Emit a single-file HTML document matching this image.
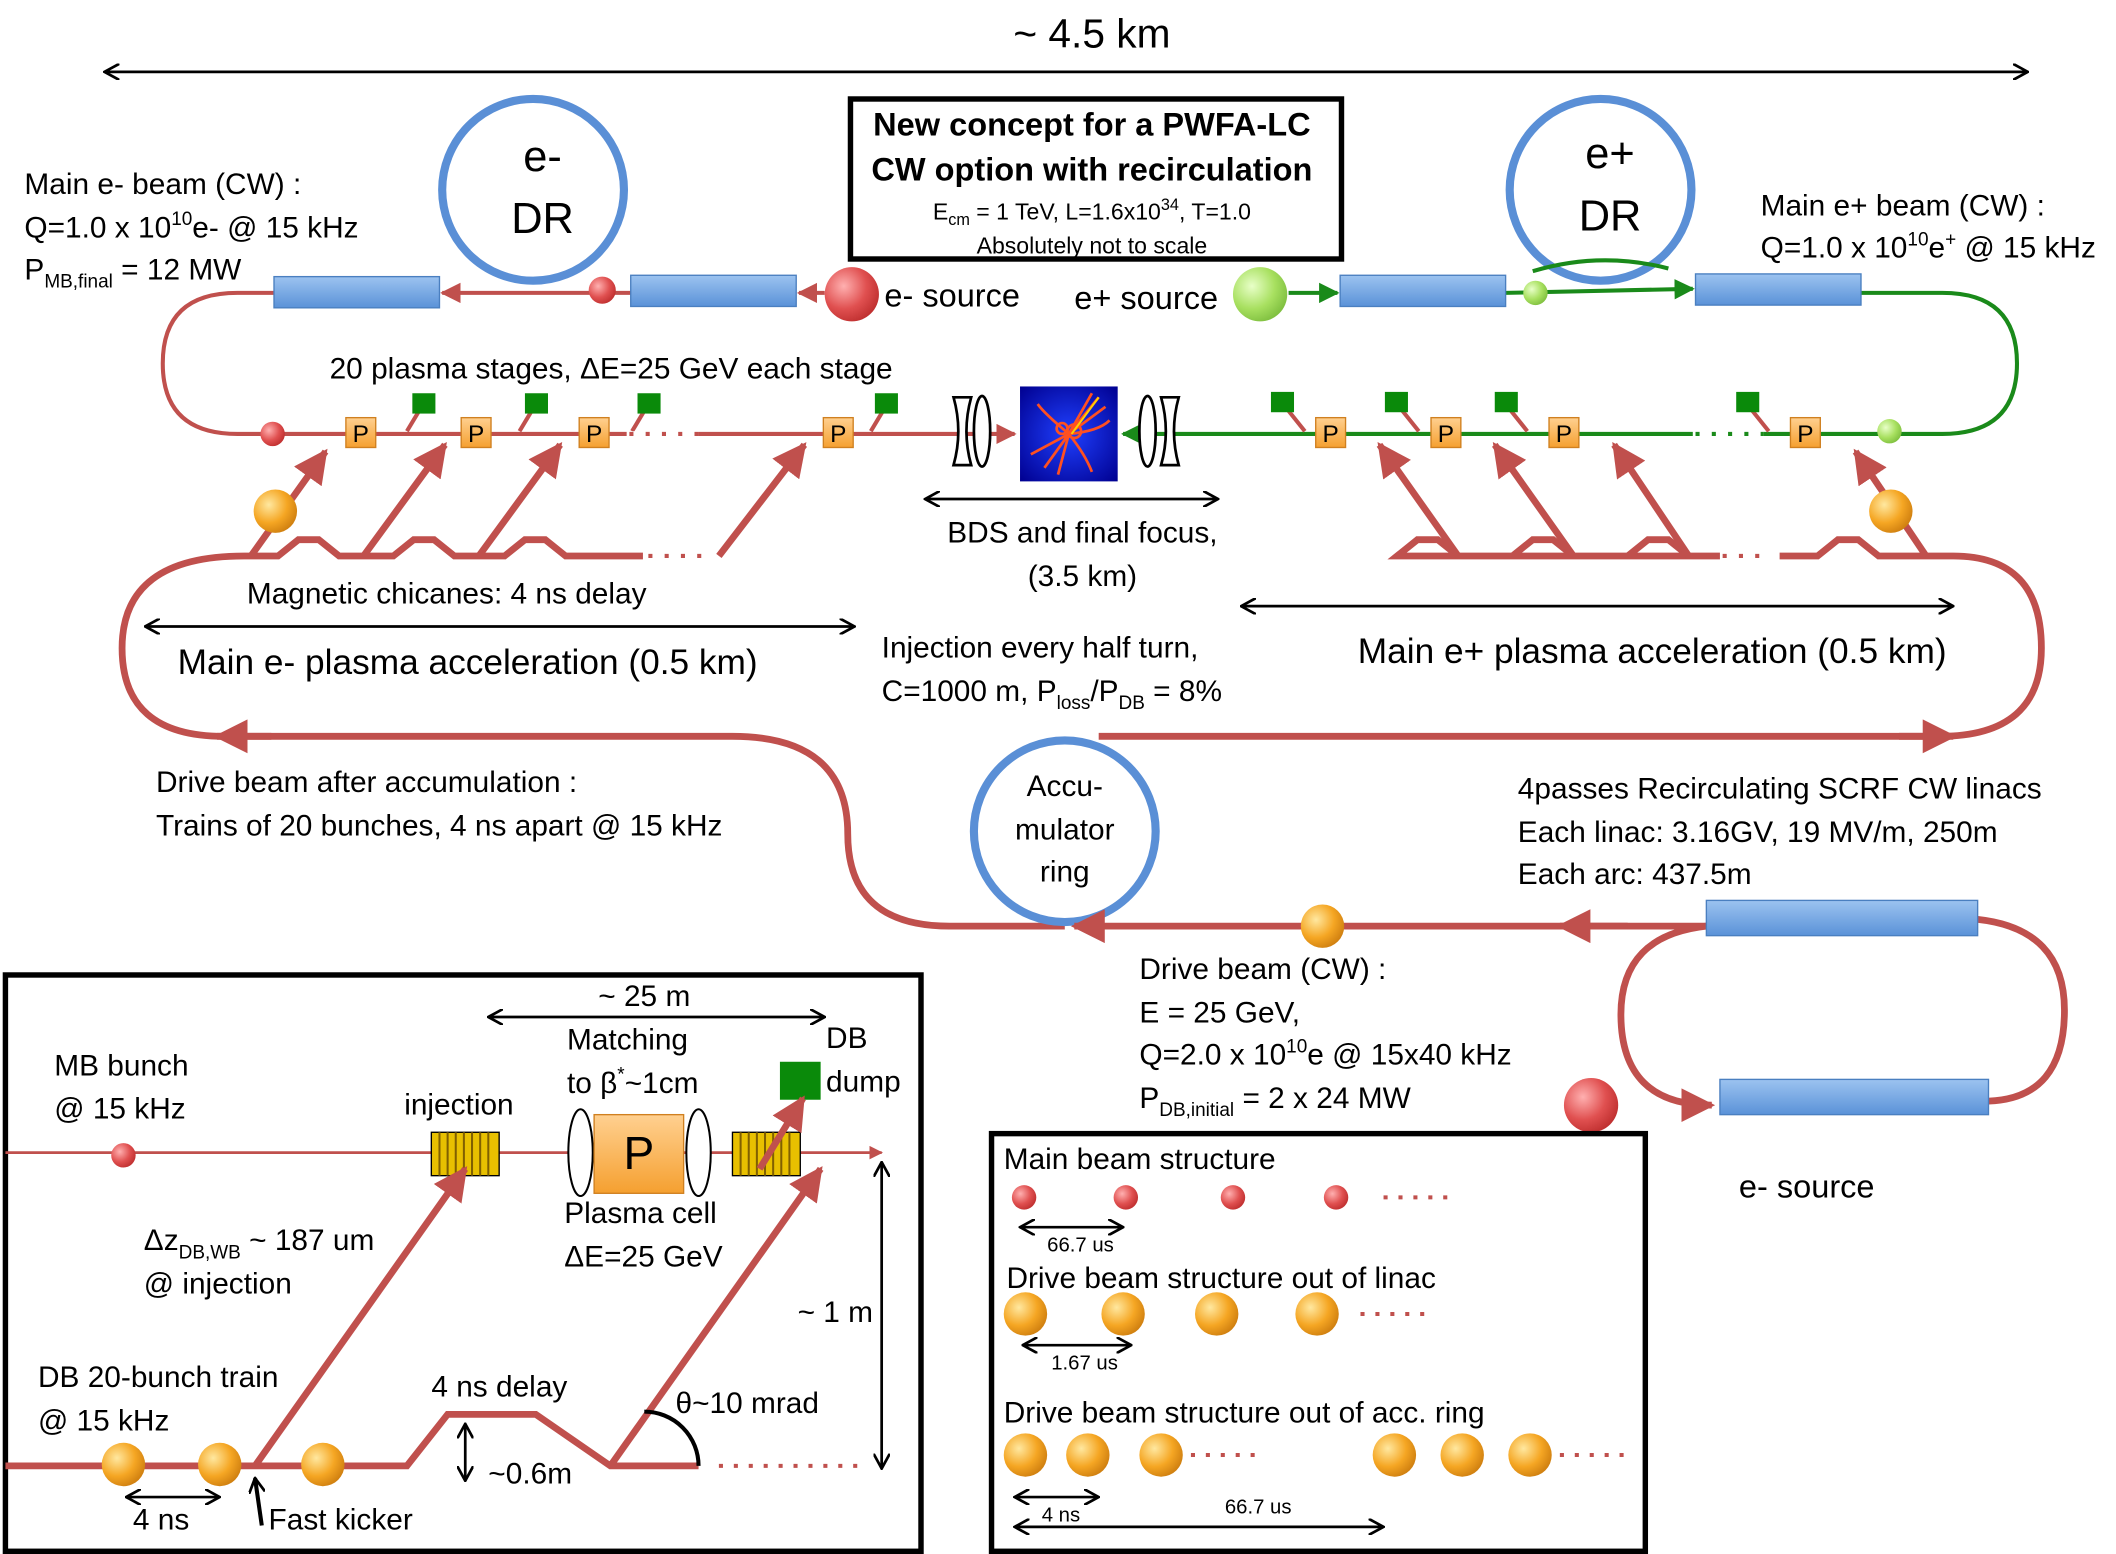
<!DOCTYPE html>
<html><head><meta charset="utf-8"><style>
html,body{margin:0;padding:0;background:#fff;}
svg{display:block;}
text{font-family:"Liberation Sans",sans-serif;fill:#000;}
</style></head><body>
<svg width="2116" height="1554" viewBox="0 0 1560 1146" preserveAspectRatio="none" xmlns="http://www.w3.org/2000/svg">
<defs>
<marker id="ar" viewBox="0 0 10 10" refX="9" refY="5" markerWidth="5" markerHeight="5" orient="auto-start-reverse"><path d="M0,0L10,5L0,10z" fill="#c0504d"/></marker>
<marker id="ag" viewBox="0 0 10 10" refX="9" refY="5" markerWidth="5" markerHeight="5" orient="auto-start-reverse"><path d="M0,0L10,5L0,10z" fill="#1a8a1a"/></marker>
<marker id="ak" viewBox="0 0 12 12" refX="11" refY="6" markerWidth="12" markerHeight="12" markerUnits="userSpaceOnUse" orient="auto-start-reverse"><path d="M0,0L11,6L0,12" fill="none" stroke="#000" stroke-width="2"/></marker>
<radialGradient id="gr" cx="0.35" cy="0.35" r="0.7"><stop offset="0" stop-color="#ffb0b0"/><stop offset="0.6" stop-color="#e05050"/><stop offset="1" stop-color="#c03030"/></radialGradient>
<radialGradient id="go" cx="0.35" cy="0.35" r="0.7"><stop offset="0" stop-color="#ffe8a0"/><stop offset="0.6" stop-color="#f5a623"/><stop offset="1" stop-color="#d08010"/></radialGradient>
<radialGradient id="gg" cx="0.35" cy="0.35" r="0.7"><stop offset="0" stop-color="#e8ffc8"/><stop offset="0.6" stop-color="#a8e060"/><stop offset="1" stop-color="#80c040"/></radialGradient>
<linearGradient id="gb" x1="0" y1="0" x2="0" y2="1"><stop offset="0" stop-color="#9cc3f0"/><stop offset="1" stop-color="#5a92d8"/></linearGradient>
<linearGradient id="gp" x1="0" y1="0" x2="0" y2="1"><stop offset="0" stop-color="#ffd090"/><stop offset="1" stop-color="#f5a030"/></linearGradient>
<radialGradient id="gbl" cx="0.5" cy="0.5" r="0.7"><stop offset="0" stop-color="#2040ff"/><stop offset="1" stop-color="#000090"/></radialGradient>
</defs>

<!-- top scale -->
<text x="805" y="35" font-size="30" text-anchor="middle">~ 4.5 km</text>
<line x1="77" y1="53" x2="1495" y2="53" stroke="#000" stroke-width="2" marker-start="url(#ak)" marker-end="url(#ak)"/>

<!-- DR rings -->
<circle cx="393" cy="140" r="67" fill="#fff" stroke="#5a8fd6" stroke-width="6"/>
<text x="400" y="126" font-size="32" text-anchor="middle">e-</text>
<text x="400" y="172" font-size="32" text-anchor="middle">DR</text>
<circle cx="1180" cy="140" r="67" fill="#fff" stroke="#5a8fd6" stroke-width="6"/>
<text x="1187" y="124" font-size="32" text-anchor="middle">e+</text>
<text x="1187" y="170" font-size="32" text-anchor="middle">DR</text>

<!-- title box -->
<rect x="627" y="73" width="362" height="118" fill="#fff" stroke="#000" stroke-width="4"/>
<text x="805" y="100" font-size="24" font-weight="bold" text-anchor="middle">New concept for a PWFA-LC</text>
<text x="805" y="133" font-size="24" font-weight="bold" text-anchor="middle">CW option with recirculation</text>
<text x="805" y="162" font-size="17" text-anchor="middle">E<tspan font-size="12" dy="4">cm</tspan><tspan dy="-4"> = 1 TeV, L=1.6x10</tspan><tspan font-size="12" dy="-7">34</tspan><tspan dy="7">, T=1.0</tspan></text>
<text x="805" y="187" font-size="17" text-anchor="middle">Absolutely not to scale</text>

<!-- left text -->
<text x="18" y="143" font-size="22">Main e- beam (CW) :</text>
<text x="18" y="175" font-size="22">Q=1.0 x 10<tspan font-size="14" dy="-9">10</tspan><tspan dy="9">e- @ 15 kHz</tspan></text>
<text x="18" y="206" font-size="22">P<tspan font-size="14" dy="6">MB,final</tspan><tspan dy="-6"> = 12 MW</tspan></text>
<text x="1298" y="159" font-size="22">Main e+ beam (CW) :</text>
<text x="1298" y="190" font-size="22">Q=1.0 x 10<tspan font-size="14" dy="-9">10</tspan><tspan dy="9">e</tspan><tspan font-size="14" dy="-9">+</tspan><tspan dy="9"> @ 15 kHz</tspan></text>

<!-- upper e- line -->
<path d="M202,216 H175 Q120,216 120,268 Q120,320 175,320 H748" fill="none" stroke="#c0504d" stroke-width="3" marker-end="url(#ar)"/>
<line x1="465" y1="216" x2="326" y2="216" stroke="#c0504d" stroke-width="3" marker-end="url(#ar)"/>
<line x1="608" y1="216" x2="589" y2="216" stroke="#c0504d" stroke-width="3" marker-end="url(#ar)"/>
<rect x="202" y="204" width="122" height="23" fill="url(#gb)" stroke="#4a7fc0"/>
<rect x="465" y="203" width="122" height="23" fill="url(#gb)" stroke="#4a7fc0"/>
<circle cx="444" cy="214" r="10" fill="url(#gr)"/>
<circle cx="628" cy="217" r="20" fill="url(#gr)"/>
<text x="652" y="226" font-size="24">e- source</text>
<text x="792" y="228" font-size="24">e+ source</text>

<!-- green e+ -->
<path d="M1130,200 Q1180,185 1230,198" fill="none" stroke="#1a8a1a" stroke-width="3"/>
<line x1="950" y1="216" x2="986" y2="216" stroke="#1a8a1a" stroke-width="3" marker-end="url(#ag)"/>
<line x1="1110" y1="216" x2="1248" y2="213" stroke="#1a8a1a" stroke-width="3" marker-end="url(#ag)"/>
<path d="M1372,216 H1432 Q1487,216 1487,268 Q1487,320 1432,320 H828" fill="none" stroke="#1a8a1a" stroke-width="3" marker-end="url(#ag)"/>
<rect x="988" y="203" width="122" height="23" fill="url(#gb)" stroke="#4a7fc0"/>
<rect x="1250" y="202" width="122" height="23" fill="url(#gb)" stroke="#4a7fc0"/>
<circle cx="929" cy="217" r="20" fill="url(#gg)"/>
<circle cx="1132" cy="216" r="9" fill="url(#gg)"/>
<circle cx="1393" cy="318" r="9" fill="url(#gg)"/>
<circle cx="201" cy="320" r="9" fill="url(#gr)"/>

<text x="243" y="279" font-size="22">20 plasma stages, ΔE=25 GeV each stage</text>

<!-- green kickers & P -->
<g stroke="#c0504d" stroke-width="3">
<line x1="312" y1="298" x2="300" y2="318"/><line x1="395" y1="298" x2="383" y2="318"/><line x1="478" y1="298" x2="466" y2="318"/><line x1="654" y1="298" x2="642" y2="318"/>
<line x1="946" y1="298" x2="962" y2="318"/><line x1="1030" y1="298" x2="1046" y2="318"/><line x1="1110" y1="298" x2="1126" y2="318"/><line x1="1288" y1="298" x2="1304" y2="318"/>
</g>
<g fill="#0a8a0a">
<rect x="304" y="290" width="17" height="15"/><rect x="387" y="290" width="17" height="15"/><rect x="470" y="290" width="17" height="15"/><rect x="645" y="290" width="17" height="15"/>
<rect x="937" y="289" width="17" height="15"/><rect x="1021" y="289" width="17" height="15"/><rect x="1102" y="289" width="17" height="15"/><rect x="1280" y="289" width="17" height="15"/>
</g>
<g font-size="18" text-anchor="middle">
<rect x="255" y="308" width="22" height="22" fill="url(#gp)" stroke="#d08020"/><text x="266" y="326">P</text>
<rect x="340" y="308" width="22" height="22" fill="url(#gp)" stroke="#d08020"/><text x="351" y="326">P</text>
<rect x="427" y="308" width="22" height="22" fill="url(#gp)" stroke="#d08020"/><text x="438" y="326">P</text>
<rect x="607" y="308" width="22" height="22" fill="url(#gp)" stroke="#d08020"/><text x="618" y="326">P</text>
<rect x="970" y="308" width="22" height="22" fill="url(#gp)" stroke="#d08020"/><text x="981" y="326">P</text>
<rect x="1055" y="308" width="22" height="22" fill="url(#gp)" stroke="#d08020"/><text x="1066" y="326">P</text>
<rect x="1142" y="308" width="22" height="22" fill="url(#gp)" stroke="#d08020"/><text x="1153" y="326">P</text>
<rect x="1320" y="308" width="22" height="22" fill="url(#gp)" stroke="#d08020"/><text x="1331" y="326">P</text>
</g>
<line x1="462" y1="320" x2="515" y2="320" stroke="#fff" stroke-width="4"/>
<line x1="464" y1="320" x2="515" y2="320" stroke="#c0504d" stroke-width="3" stroke-dasharray="3,9"/>
<line x1="1248" y1="320" x2="1300" y2="320" stroke="#fff" stroke-width="4"/>
<line x1="1250" y1="320" x2="1300" y2="320" stroke="#1a8a1a" stroke-width="3" stroke-dasharray="3,9"/>

<!-- final focus -->
<g fill="#fff" stroke="#000" stroke-width="2">
<path d="M703,293 H716 Q709,318 716,343 H703 Q710,318 703,293z"/>
<ellipse cx="724" cy="318" rx="6" ry="26"/>
<ellipse cx="846" cy="318" rx="6" ry="26"/>
<path d="M856,293 H869 Q862,318 869,343 H856 Q863,318 856,293z"/>
</g>
<rect x="752" y="285" width="72" height="70" fill="url(#gbl)"/>
<g stroke="#ff5020" stroke-width="2" fill="none">
<path d="M788,320 L810,293"/><path d="M788,320 L815,300"/><path d="M788,320 L805,290"/><path d="M788,320 L770,345"/><path d="M788,320 L760,335"/><path d="M788,320 L780,350"/><path d="M788,320 Q770,305 765,298"/><path d="M788,320 Q800,335 805,348"/><path d="M788,320 Q810,318 818,310"/><circle cx="792" cy="318" r="5"/><circle cx="783" cy="316" r="4"/>
</g>
<line x1="790" y1="320" x2="810" y2="293" stroke="#ffd000" stroke-width="1.5"/>
<line x1="682" y1="368" x2="898" y2="368" stroke="#000" stroke-width="2" marker-start="url(#ak)" marker-end="url(#ak)"/>
<text x="798" y="400" font-size="22" text-anchor="middle">BDS and final focus,</text>
<text x="798" y="432" font-size="22" text-anchor="middle">(3.5 km)</text>

<!-- drive beam loops -->
<g fill="none" stroke="#c0504d" stroke-width="5">
<path d="M785,683 H700 Q625,683 625,615 Q625,543 540,543 H165"/>
<path d="M165,543 Q90,543 90,478 Q90,410 180,410 H205 L220,398 H235 L250,410 H290 L305,398 H320 L335,410 H372 L387,398 H402 L417,410 H474"/>
<path d="M810,543 H1430"/>
<path d="M1430,543 Q1505,543 1505,478 Q1505,410 1440,410 H1385 L1370,398 H1355 L1340,410 H1312"/>
<path d="M1268,410 H1245 L1230,398 H1215 L1200,410 H1160 L1145,398 H1130 L1115,410 H1075 L1060,398 H1045 L1030,410 H1255"/>
</g>
<line x1="478" y1="410" x2="525" y2="410" stroke="#c0504d" stroke-width="3" stroke-dasharray="3,9"/>
<line x1="1258" y1="410" x2="1305" y2="410" stroke="#c0504d" stroke-width="3" stroke-dasharray="3,9"/>
<line x1="200" y1="543" x2="160" y2="543" stroke="#c0504d" stroke-width="5" marker-end="url(#ar)"/>
<line x1="1400" y1="543" x2="1440" y2="543" stroke="#c0504d" stroke-width="5" marker-end="url(#ar)"/>
<g stroke="#c0504d" stroke-width="5">
<line x1="185" y1="410" x2="240" y2="333" marker-end="url(#ar)"/>
<line x1="268" y1="410" x2="328" y2="328" marker-end="url(#ar)"/>
<line x1="353" y1="410" x2="413" y2="328" marker-end="url(#ar)"/>
<line x1="530" y1="410" x2="593" y2="328" marker-end="url(#ar)"/>
<line x1="1075" y1="410" x2="1017" y2="328" marker-end="url(#ar)"/>
<line x1="1160" y1="410" x2="1102" y2="328" marker-end="url(#ar)"/>
<line x1="1245" y1="410" x2="1190" y2="328" marker-end="url(#ar)"/>
<line x1="1420" y1="410" x2="1368" y2="333" marker-end="url(#ar)"/>
</g>
<circle cx="203" cy="377" r="16" fill="url(#go)"/>
<circle cx="1394" cy="377" r="16" fill="url(#go)"/>

<text x="182" y="445" font-size="22">Magnetic chicanes: 4 ns delay</text>
<line x1="107" y1="462" x2="630" y2="462" stroke="#000" stroke-width="2" marker-start="url(#ak)" marker-end="url(#ak)"/>
<text x="131" y="497" font-size="26">Main e- plasma acceleration (0.5 km)</text>
<text x="650" y="485" font-size="22">Injection every half turn,</text>
<text x="650" y="517" font-size="22">C=1000 m, P<tspan font-size="14" dy="6">loss</tspan><tspan dy="-6">/P</tspan><tspan font-size="14" dy="6">DB</tspan><tspan dy="-6"> = 8%</tspan></text>
<line x1="915" y1="447" x2="1440" y2="447" stroke="#000" stroke-width="2" marker-start="url(#ak)" marker-end="url(#ak)"/>
<text x="1001" y="489" font-size="26">Main e+ plasma acceleration (0.5 km)</text>

<text x="115" y="584" font-size="22">Drive beam after accumulation :</text>
<text x="115" y="616" font-size="22">Trains of 20 bunches, 4 ns apart @ 15 kHz</text>

<circle cx="785" cy="613" r="67" fill="#fff" stroke="#5a8fd6" stroke-width="6"/>
<text x="785" y="587" font-size="22" text-anchor="middle">Accu-</text>
<text x="785" y="619" font-size="22" text-anchor="middle">mulator</text>
<text x="785" y="650" font-size="22" text-anchor="middle">ring</text>

<text x="1119" y="589" font-size="22">4passes Recirculating SCRF CW linacs</text>
<text x="1119" y="621" font-size="22">Each linac: 3.16GV, 19 MV/m, 250m</text>
<text x="1119" y="652" font-size="22">Each arc: 437.5m</text>

<!-- linac loop -->
<g fill="none" stroke="#c0504d" stroke-width="5">
<line x1="1258" y1="683" x2="792" y2="683" marker-end="url(#ar)"/>
<line x1="1200" y1="683" x2="1150" y2="683" marker-end="url(#ar)"/>
<path d="M1458,678 Q1522,685 1522,745 Q1522,810 1466,812"/>
<path d="M1258,683 Q1195,690 1195,748 Q1195,815 1262,815" marker-end="url(#ar)"/>
</g>
<rect x="1258" y="664" width="200" height="26" fill="url(#gb)" stroke="#4a7fc0"/>
<rect x="1268" y="796" width="198" height="26" fill="url(#gb)" stroke="#4a7fc0"/>
<circle cx="1173" cy="815" r="20" fill="url(#gr)"/>
<circle cx="975" cy="683" r="16" fill="url(#go)"/>
<text x="1282" y="883" font-size="24">e- source</text>

<text x="840" y="722" font-size="22">Drive beam (CW) :</text>
<text x="840" y="754" font-size="22">E = 25 GeV,</text>
<text x="840" y="785" font-size="22">Q=2.0 x 10<tspan font-size="14" dy="-9">10</tspan><tspan dy="9">e @ 15x40 kHz</tspan></text>
<text x="840" y="817" font-size="22">P<tspan font-size="14" dy="6">DB,initial</tspan><tspan dy="-6"> = 2 x 24 MW</tspan></text>

<!-- bottom left box -->
<rect x="4" y="719" width="675" height="425" fill="none" stroke="#000" stroke-width="4"/>
<line x1="4" y1="850" x2="650" y2="850" stroke="#c0504d" stroke-width="2" marker-end="url(#ar)"/>
<circle cx="91" cy="852" r="9" fill="url(#gr)"/>
<text x="40" y="793" font-size="22">MB bunch</text>
<text x="40" y="825" font-size="22">@ 15 kHz</text>
<text x="298" y="822" font-size="22">injection</text>
<g>
<rect x="318" y="835" width="50" height="32" fill="#e8c000" stroke="#000"/>
<g stroke="#806000" stroke-width="1.5"><line x1="324" y1="835" x2="324" y2="867"/><line x1="330" y1="835" x2="330" y2="867"/><line x1="336" y1="835" x2="336" y2="867"/><line x1="342" y1="835" x2="342" y2="867"/><line x1="348" y1="835" x2="348" y2="867"/><line x1="354" y1="835" x2="354" y2="867"/><line x1="360" y1="835" x2="360" y2="867"/></g>
<rect x="540" y="835" width="50" height="32" fill="#e8c000" stroke="#000"/>
<g stroke="#806000" stroke-width="1.5"><line x1="546" y1="835" x2="546" y2="867"/><line x1="552" y1="835" x2="552" y2="867"/><line x1="558" y1="835" x2="558" y2="867"/><line x1="564" y1="835" x2="564" y2="867"/><line x1="570" y1="835" x2="570" y2="867"/><line x1="576" y1="835" x2="576" y2="867"/><line x1="582" y1="835" x2="582" y2="867"/></g>
</g>
<ellipse cx="428" cy="850" rx="9" ry="32" fill="#fff" stroke="#000" stroke-width="1.5"/>
<ellipse cx="515" cy="850" rx="9" ry="32" fill="#fff" stroke="#000" stroke-width="1.5"/>
<rect x="438" y="822" width="66" height="58" fill="url(#gp)" stroke="#d08020"/>
<text x="471" y="862" font-size="34" text-anchor="middle">P</text>
<line x1="360" y1="750" x2="608" y2="750" stroke="#000" stroke-width="2" marker-start="url(#ak)" marker-end="url(#ak)"/>
<text x="475" y="742" font-size="22" text-anchor="middle">~ 25 m</text>
<text x="418" y="774" font-size="22">Matching</text>
<text x="418" y="806" font-size="22">to β<tspan font-size="14" dy="-9">*</tspan><tspan dy="9">~1cm</tspan></text>
<text x="609" y="773" font-size="22">DB</text>
<text x="609" y="805" font-size="22">dump</text>
<rect x="575" y="783" width="30" height="28" fill="#0a8a0a"/>
<line x1="560" y1="862" x2="592" y2="810" stroke="#c0504d" stroke-width="5" marker-end="url(#ar)"/>
<text x="416" y="902" font-size="22">Plasma cell</text>
<text x="416" y="934" font-size="22">ΔE=25 GeV</text>
<text x="106" y="922" font-size="22">Δz<tspan font-size="14" dy="6">DB,WB</tspan><tspan dy="-6"> ~ 187 um</tspan></text>
<text x="106" y="954" font-size="22">@ injection</text>
<text x="28" y="1023" font-size="22">DB 20-bunch train</text>
<text x="28" y="1055" font-size="22">@ 15 kHz</text>
<path d="M4,1081 H300 L330,1043 H395 L450,1081 H515" fill="none" stroke="#c0504d" stroke-width="5"/>
<line x1="530" y1="1081" x2="640" y2="1081" stroke="#c0504d" stroke-width="3" stroke-dasharray="3,8"/>
<line x1="188" y1="1081" x2="343" y2="862" stroke="#c0504d" stroke-width="5" marker-end="url(#ar)"/>
<line x1="450" y1="1081" x2="605" y2="862" stroke="#c0504d" stroke-width="5" marker-end="url(#ar)"/>
<circle cx="91" cy="1080" r="16" fill="url(#go)"/>
<circle cx="162" cy="1080" r="16" fill="url(#go)"/>
<circle cx="238" cy="1080" r="16" fill="url(#go)"/>
<text x="318" y="1030" font-size="22">4 ns delay</text>
<line x1="343" y1="1050" x2="343" y2="1092" stroke="#000" stroke-width="2" marker-start="url(#ak)" marker-end="url(#ak)"/>
<text x="360" y="1094" font-size="22">~0.6m</text>
<text x="588" y="975" font-size="22">~ 1 m</text>
<line x1="650" y1="857" x2="650" y2="1083" stroke="#000" stroke-width="2" marker-start="url(#ak)" marker-end="url(#ak)"/>
<text x="498" y="1042" font-size="22">θ~10 mrad</text>
<path d="M475,1041 A40,40 0 0 1 515,1081" fill="none" stroke="#000" stroke-width="3"/>
<line x1="93" y1="1104" x2="162" y2="1104" stroke="#000" stroke-width="2" marker-start="url(#ak)" marker-end="url(#ak)"/>
<text x="98" y="1128" font-size="22">4 ns</text>
<line x1="193" y1="1125" x2="188" y2="1090" stroke="#000" stroke-width="3" marker-end="url(#ak)"/>
<text x="198" y="1128" font-size="22">Fast kicker</text>

<!-- bottom right box -->
<rect x="731" y="836" width="482" height="308" fill="none" stroke="#000" stroke-width="4"/>
<text x="740" y="862" font-size="22">Main beam structure</text>
<circle cx="755" cy="883" r="9" fill="url(#gr)"/><circle cx="830" cy="883" r="9" fill="url(#gr)"/><circle cx="909" cy="883" r="9" fill="url(#gr)"/><circle cx="985" cy="883" r="9" fill="url(#gr)"/>
<line x1="1020" y1="883" x2="1072" y2="883" stroke="#c0504d" stroke-width="3" stroke-dasharray="3,8"/>
<line x1="752" y1="905" x2="828" y2="905" stroke="#000" stroke-width="2" marker-start="url(#ak)" marker-end="url(#ak)"/>
<text x="772" y="923" font-size="15">66.7 us</text>
<text x="742" y="950" font-size="22">Drive beam structure out of linac</text>
<circle cx="756" cy="969" r="16" fill="url(#go)"/><circle cx="828" cy="969" r="16" fill="url(#go)"/><circle cx="897" cy="969" r="16" fill="url(#go)"/><circle cx="971" cy="969" r="16" fill="url(#go)"/>
<line x1="1003" y1="969" x2="1055" y2="969" stroke="#c0504d" stroke-width="3" stroke-dasharray="3,8"/>
<line x1="754" y1="992" x2="834" y2="992" stroke="#000" stroke-width="2" marker-start="url(#ak)" marker-end="url(#ak)"/>
<text x="775" y="1010" font-size="15">1.67 us</text>
<text x="740" y="1049" font-size="22">Drive beam structure out of acc. ring</text>
<circle cx="756" cy="1073" r="16" fill="url(#go)"/><circle cx="802" cy="1073" r="16" fill="url(#go)"/><circle cx="856" cy="1073" r="16" fill="url(#go)"/><circle cx="1028" cy="1073" r="16" fill="url(#go)"/><circle cx="1078" cy="1073" r="16" fill="url(#go)"/><circle cx="1128" cy="1073" r="16" fill="url(#go)"/>
<line x1="878" y1="1073" x2="930" y2="1073" stroke="#c0504d" stroke-width="3" stroke-dasharray="3,8"/>
<line x1="1150" y1="1073" x2="1202" y2="1073" stroke="#c0504d" stroke-width="3" stroke-dasharray="3,8"/>
<line x1="748" y1="1104" x2="810" y2="1104" stroke="#000" stroke-width="2" marker-start="url(#ak)" marker-end="url(#ak)"/>
<text x="768" y="1122" font-size="15">4 ns</text>
<line x1="748" y1="1126" x2="1020" y2="1126" stroke="#000" stroke-width="2" marker-start="url(#ak)" marker-end="url(#ak)"/>
<text x="903" y="1116" font-size="15">66.7 us</text>
</svg>
</body></html>
